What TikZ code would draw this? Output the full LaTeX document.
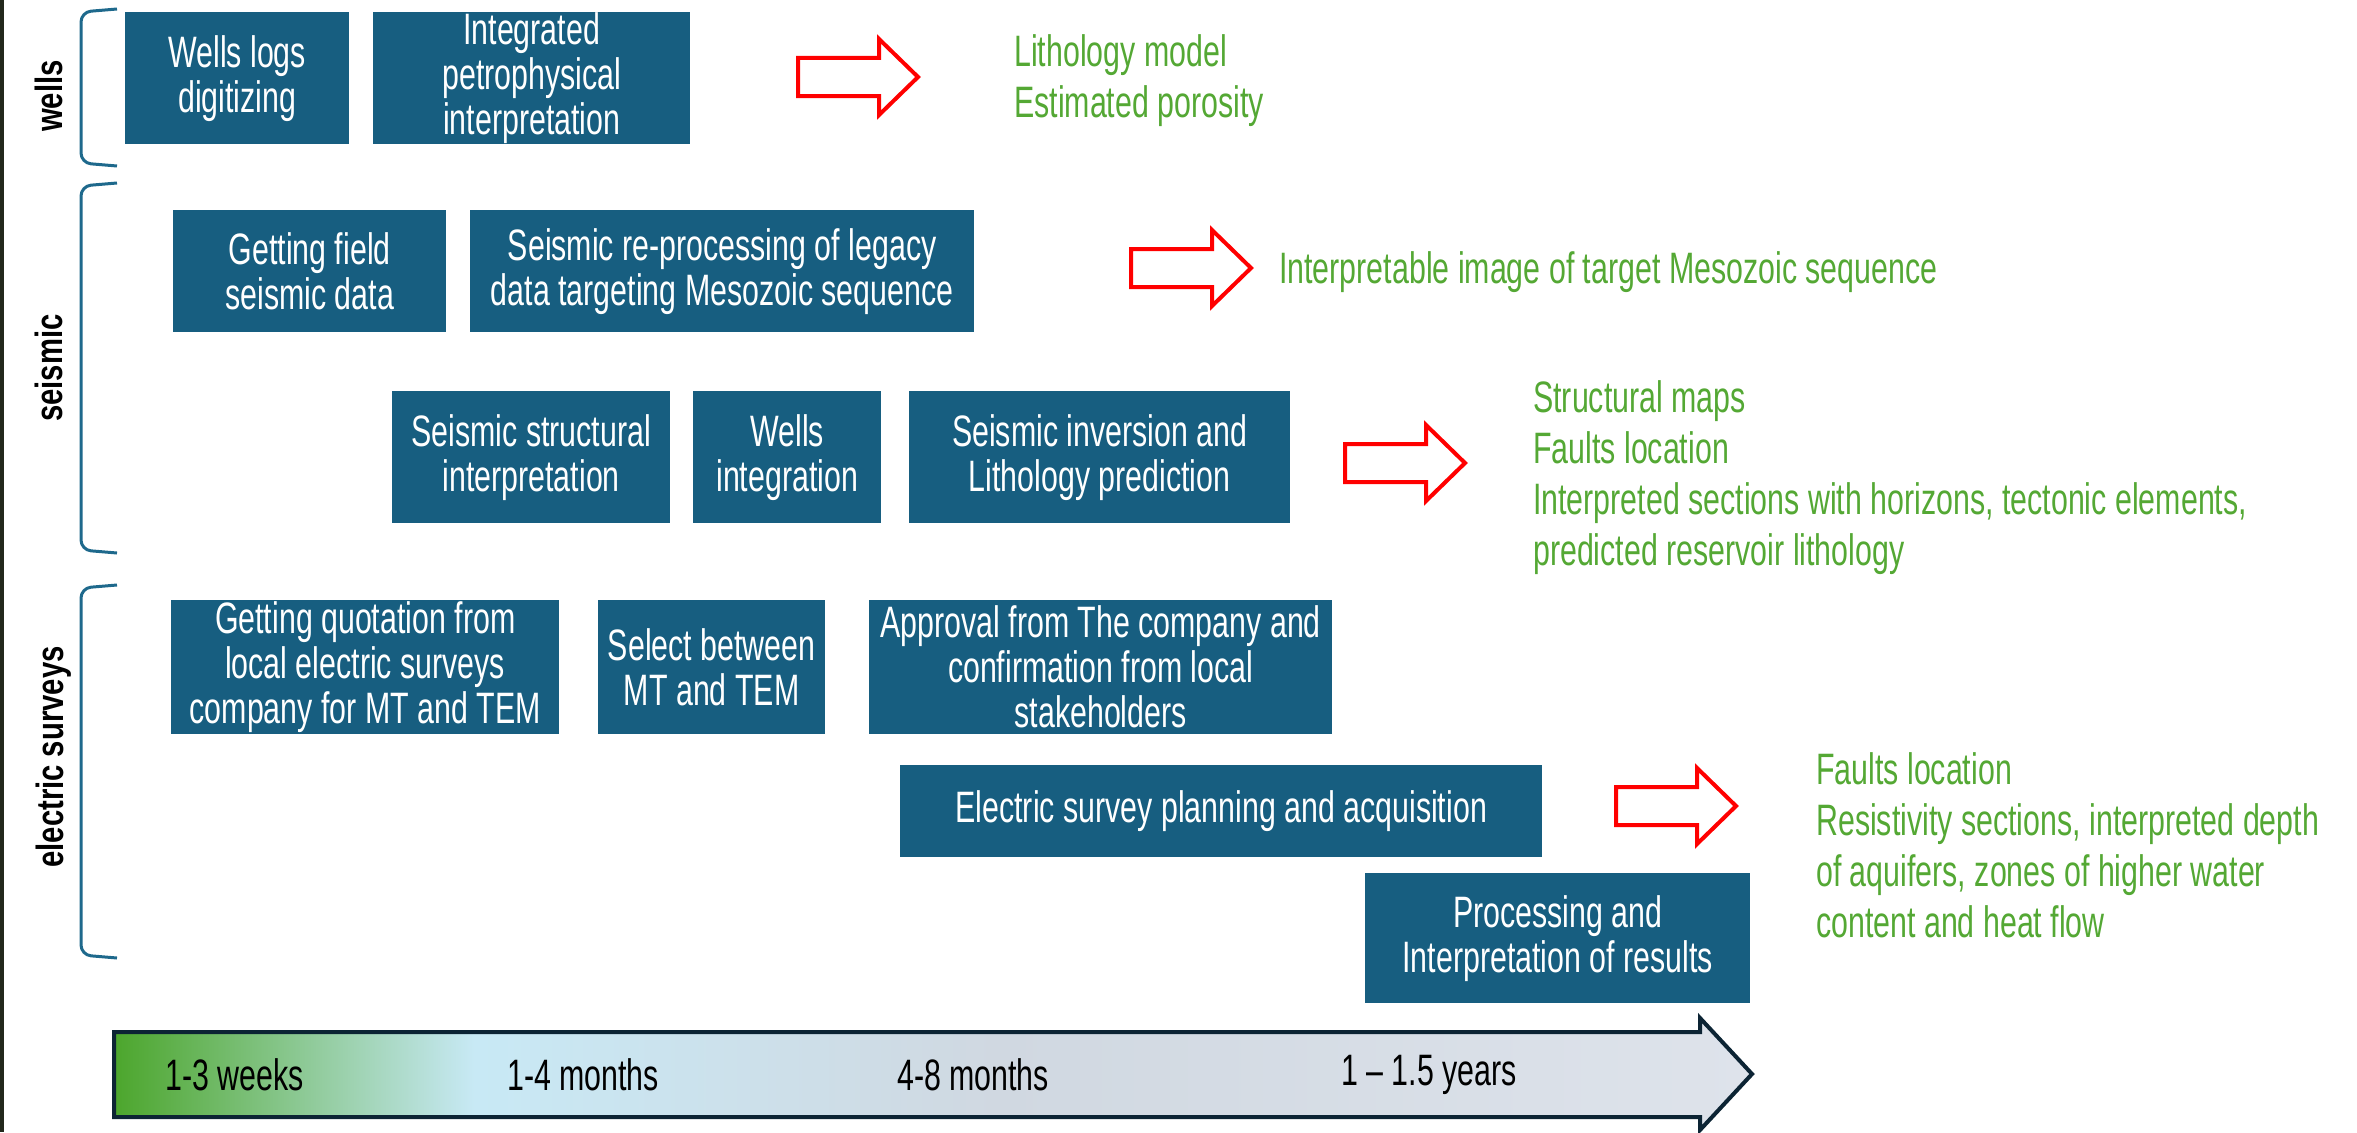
\documentclass[tikz,border=0pt]{standalone}
\usepackage{fontspec}
\setmainfont{Liberation Sans}[FakeStretch=0.69]
\newfontfamily\labfont{Liberation Sans}[FakeStretch=0.77]
\definecolor{boxblue}{RGB}{23,94,128}
\definecolor{brkblue}{RGB}{30,105,140}
\definecolor{outgreen}{RGB}{84,168,52}
\definecolor{tlg}{RGB}{76,166,44}
\definecolor{tlb}{RGB}{200,233,245}
\definecolor{tlm}{RGB}{208,216,225}
\definecolor{tle}{RGB}{222,227,235}
\definecolor{tlborder}{RGB}{12,36,52}
\definecolor{stripdark}{RGB}{34,40,28}
\pgfdeclarehorizontalshading{tlshade}{100bp}{color(0bp)=(tlg); color(25bp)=(tlg); color(36bp)=(tlb); color(52bp)=(tlm); color(75bp)=(tle); color(100bp)=(tle)}
\newcommand\boxfont{\fontsize{44}{45}\selectfont}
\newcommand\outfont{\fontsize{44}{51}\selectfont}
\newcommand\secfont{\labfont\bfseries\fontsize{38}{40}\selectfont}
\tikzset{
  box/.style={fill=boxblue, text=white, align=center, inner sep=0pt, font=\boxfont, anchor=north west},
  outtext/.style={text=outgreen, align=left, anchor=west, inner sep=0pt, font=\outfont},
  sect/.style={rotate=90, text=black, inner sep=0pt, font=\secfont},
  brk/.style={draw=brkblue, line width=3, rounded corners=10},
  redarrow/.style={draw=red, line width=4, fill=white, line join=miter},
  tllabel/.style={anchor=west, inner sep=0pt, text=black, font=\boxfont}
}
\newcommand\bx[6]{\node[box, minimum width=#4-#2, minimum height=#5-#3] (#1) at (#2,#3) {#6};}
\newcommand\rarr[2]{\draw[redarrow] (#1,#2-19) -- (#1+81,#2-19) -- (#1+81,#2-38) -- (#1+120,#2) -- (#1+81,#2+38) -- (#1+81,#2+19) -- (#1,#2+19) -- cycle;}
\newcommand\grpbrace[2]{\draw[brk] (117,#1) -- (81,#1+3) -- (81,#2-3) -- (117,#2);}
\begin{document}
\begin{tikzpicture}[x=1pt,y=-1pt]
\useasboundingbox (0,0) rectangle (2357,1132);
\fill[stripdark] (0,0) rectangle (4,1132);
% brackets
\grpbrace{9}{166}
\grpbrace{183}{553}
\grpbrace{585}{958}
% section labels
\node[sect] (lw) at (49,96) {wells};
\node[sect] (ls) at (49,368) {seismic};
\node[sect] (le) at (54,757) {electric surveys};
% wells
\bx{w1}{125}{12}{349}{144}{Wells logs\\digitizing}
\bx{w2}{373}{12}{690}{144}{Integrated\\petrophysical\\interpretation}
% seismic
\bx{s1}{173}{210}{446}{332}{Getting field\\seismic data}
\bx{s2}{470}{210}{974}{332}{Seismic re-processing of legacy\\data targeting Mesozoic sequence}
\bx{s3}{392}{391}{670}{523}{Seismic structural\\interpretation}
\bx{s4}{693}{391}{881}{523}{Wells\\integration}
\bx{s5}{909}{391}{1290}{523}{Seismic inversion and\\Lithology prediction}
% electric
\bx{e1}{171}{600}{559}{734}{Getting quotation from\\local electric surveys\\company for MT and TEM}
\bx{e2}{598}{600}{825}{734}{Select between\\MT and TEM}
\bx{e3}{869}{600}{1332}{734}{Approval from The company and\\confirmation from local\\stakeholders}
\bx{e4}{900}{765}{1542}{857}{Electric survey planning and acquisition}
\bx{e5}{1365}{873}{1750}{1003}{Processing and\\Interpretation of results}
% red arrows
\rarr{798}{77}
\rarr{1131}{268}
\rarr{1345}{463}
\rarr{1616}{806}
% outputs
\node[outtext] (o1) at (1014,81) {Lithology model\\Estimated porosity};
\node[outtext] (o2) at (1279,272) {Interpretable image of target Mesozoic sequence};
\node[outtext] (o3) at (1533,478) {Structural maps\\Faults location\\Interpreted sections with horizons, tectonic elements,\\predicted reservoir lithology};
\node[outtext] (o4) at (1816,845) {Faults location\\Resistivity sections, interpreted depth\\of aquifers, zones of higher water\\content and heat flow};
% timeline
\path[draw=tlborder, line width=4, line join=miter, shade, shading=tlshade]
  (114,1032) -- (1700,1032) -- (1700,1018) -- (1752,1074) -- (1700,1130) -- (1700,1117) -- (114,1117) -- cycle;
\node[tllabel] (t1) at (165,1075) {1-3 weeks};
\node[tllabel] (t2) at (507,1075) {1-4 months};
\node[tllabel] (t3) at (897,1075) {4-8 months};
\node[tllabel] (t4) at (1341,1075) {1 – 1.5 years};
\end{tikzpicture}
\end{document}
